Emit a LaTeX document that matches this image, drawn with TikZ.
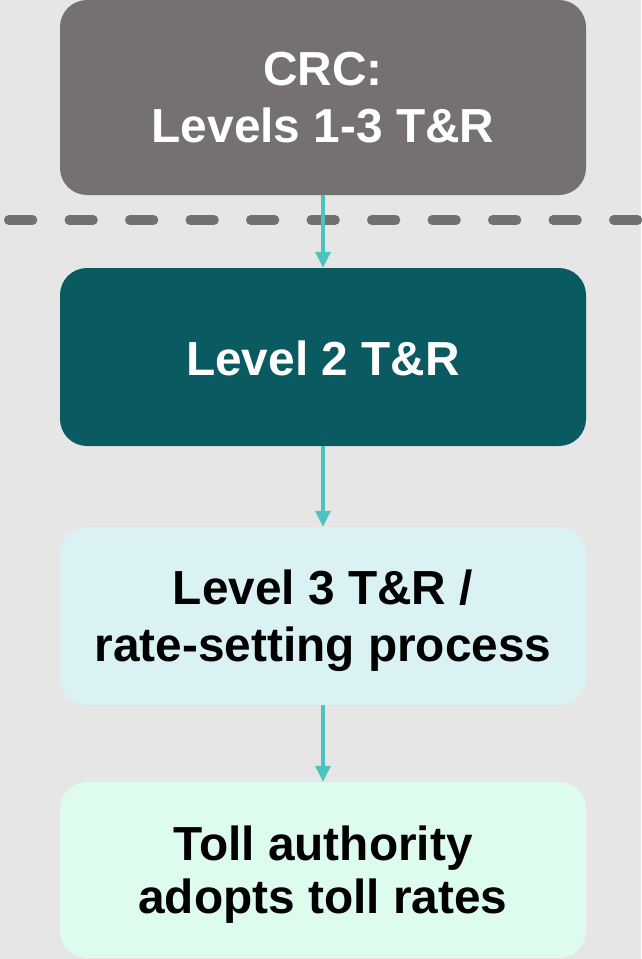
\documentclass[tikz,border=0pt]{standalone}
\usepackage{fontspec}
\setmainfont{Liberation Sans}
\usetikzlibrary{arrows.meta}
\definecolor{bg}{HTML}{E6E6E6}
\definecolor{crcgray}{HTML}{767171}
\definecolor{dashgray}{HTML}{757070}
\definecolor{darkteal}{HTML}{0A5A62}
\definecolor{lightcyan}{HTML}{DAF2F3}
\definecolor{lightmint}{HTML}{DDFCEE}
\definecolor{arrowc}{HTML}{4DC3BE}
\begin{document}
\begin{tikzpicture}[x=1pt,y=-1pt,
  box/.style={rounded corners=27pt, minimum width=526pt, inner sep=0pt},
  boxtext/.style={align=center, inner sep=0pt},
  conn/.style={draw=arrowc, line width=3.3pt, -{Triangle[width=15pt,length=16pt]}},
  sep/.style={draw=dashgray, line width=9.3pt, line cap=round, dash pattern=on 24pt off 36.5pt}]
\fill[bg] (0,0) rectangle (641,959);
\useasboundingbox (0,0) rectangle (641,959);
% boxes
\node[box, fill=crcgray, minimum height=195pt] (crc) at (323,97.5) {};
\node[box, fill=darkteal, minimum height=178pt] (l2) at (323,357) {};
\node[box, fill=lightcyan, minimum height=178pt] (l3) at (323,616) {};
\node[box, fill=lightmint, minimum height=176pt] (toll) at (323,870) {};
% texts
\node[boxtext, text=white, font=\fontsize{47.8}{57}\selectfont\bfseries] (crct) at (crc.center) {CRC:\\Levels 1-3 T\&R};
\node[boxtext, text=white, font=\fontsize{47.8}{57}\selectfont\bfseries] (l2t) at ([yshift=-1.5pt]l2.center) {Level 2 T\&R};
\node[boxtext, text=black, font=\fontsize{47.8}{56.7}\selectfont\bfseries] (l3t) at ([yshift=-5pt]l3.center) {Level 3 T\&R /\\rate-setting process};
\node[boxtext, text=black, font=\fontsize{47.8}{53}\selectfont\bfseries] (tollt) at ([yshift=-4.4pt]toll.center) {Toll authority\\adopts toll rates};
% separator
\coordinate (sepL) at (8.65,220);
\coordinate (sepR) at (680,220);
\draw[sep] (sepL) -- (sepR);
% connectors
\draw[conn] (crc.south) -- (l2.north);
\draw[conn] (l2.south) -- (l3.north);
\draw[conn] (l3.south) -- (toll.north);
\end{tikzpicture}
\end{document}
